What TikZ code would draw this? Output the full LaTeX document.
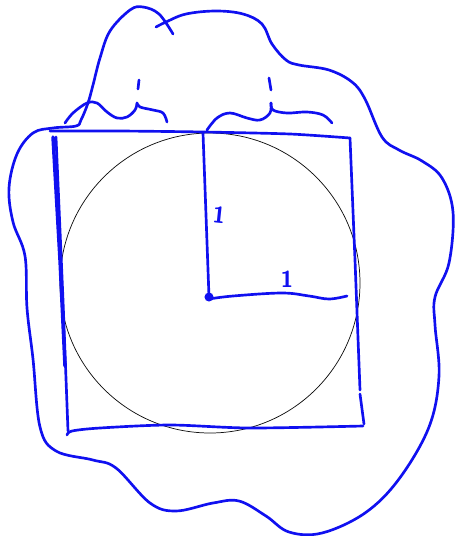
\documentclass[tikz,border=0pt]{standalone}
\usetikzlibrary{arrows.meta}
\definecolor{skBlue}{HTML}{1010F0}
\definecolor{skInk}{HTML}{101010}
\tikzset{
  sk pen/.style={draw=skBlue, line width=2pt, line cap=round, line join=round},
  sk thin/.style={draw=skInk, line width=0.55pt},
  sk label/.style={font=\sffamily\bfseries\LARGE, text=skBlue, inner sep=0pt},
}

\begin{document}
\begin{tikzpicture}[x=0.75pt, y=-0.75pt]
  \useasboundingbox (0,0) rectangle (458,536);

  % Unit circle, thin
  \draw[sk thin] (210,283) circle (112.5pt);

  % Blob round everything
  \draw[sk pen] plot[smooth, tension=0.6] coordinates {
    (173,34) (159,14) (143,7) (130,10) (110,31) (100,58) (93,85) (88,103)
    (81,120) (76,126) (53,128) (33,133) (17,154) (9,188) (13,222) (25,256)
    (27,308) (33,359) (40,427) (56,451) (93,460) (116,468) (150,503) (176,511)
    (213,503) (239,501) (266,516) (289,532) (322,533) (365,513) (399,479)
    (429,427) (439,376) (435,325) (435,297) (449,263) (453,212) (442,178)
    (422,161) (399,150) (382,137) (365,99) (352,82) (329,70) (299,65)
    (286,60) (272,44) (262,24) (243,14) (216,11) (186,14) (166,22) (156,27)};

  % Scribbles on top of the square
  \draw[sk pen] plot[smooth, tension=0.6] coordinates {
    (65,123) (73,113) (87,103) (97,103) (107,112) (117,118) (127,117)
    (135,110) (137,103)};
  \draw[sk pen] plot[smooth, tension=0.6] coordinates {
    (137,103) (140,107) (153,110) (163,113) (167,122)};
  \draw[sk pen] (139,80) -- (138,89);
  \draw[sk pen] plot[smooth, tension=0.6] coordinates {
    (207,130) (217,118) (230,113) (247,118) (260,120) (270,113) (271,103)};
  \draw[sk pen] plot[smooth, tension=0.6] coordinates {
    (271,103) (273,110) (287,113) (307,112) (323,115) (332,123)};
  \draw[sk pen] (269,78) -- (271,90);

  % Square, hand drawn
  \draw[sk pen] plot[smooth, tension=0.4] coordinates {
    (50,131) (120,131) (204,132) (290,134) (350,138)};
  \draw[sk pen] (350,138) -- (355,260) -- (360,390);
  \draw[sk pen] (360,394) -- (364,424);
  \draw[sk pen] plot[smooth, tension=0.5] coordinates {
    (363,426) (250,428) (170,425) (100,428) (72,431) (67,435)};
  \draw[sk pen] (56,137) -- (63,300) -- (68,431);
  \draw[sk pen, line width=2.6pt] (53,137) -- (60,260) -- (65,366);

  % Radii
  \coordinate (ctr) at (209,297);
  \coordinate (topend) at (203,133);
  \draw[sk pen] (topend) -- (ctr);
  \draw[sk pen] plot[smooth, tension=0.6] coordinates {
    (209,299) (233,296) (282,293) (309,296) (329,299) (347,296)};
  \fill[skBlue] (ctr) circle (3.4pt);

  \node[sk label, rotate=-6] (lblv) at (219,215) {1};
  \node[sk label] (lblh) at (287,279) {1};
\end{tikzpicture}
\end{document}
